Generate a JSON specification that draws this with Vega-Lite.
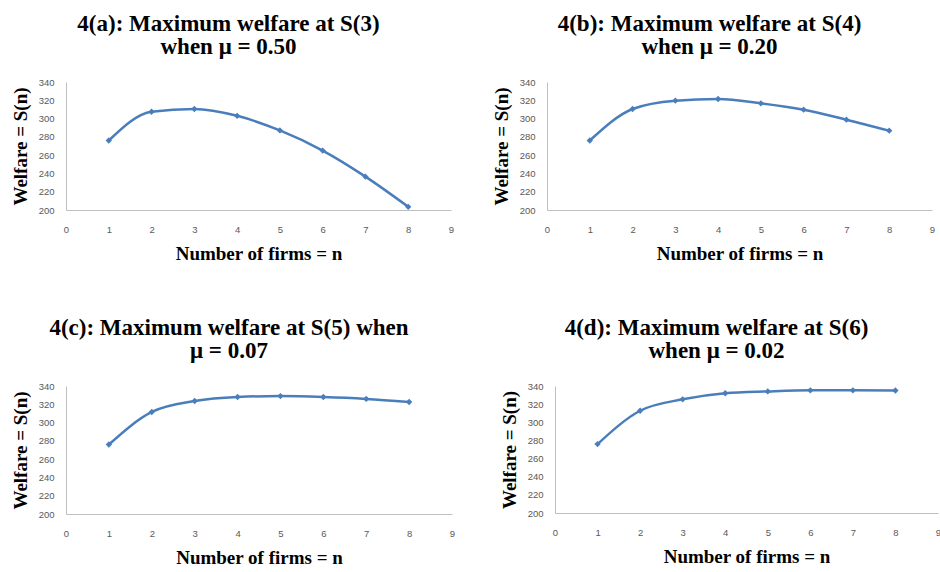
{
  "$schema": "https://vega.github.io/schema/vega-lite/v6.json",
  "padding": {"left": 11, "top": 13, "right": 0, "bottom": 0},
  "background": "white",
  "data": {"values": [
    {"panel": "a", "n": 1, "S": 276}, {"panel": "a", "n": 2, "S": 307.5}, {"panel": "a", "n": 3, "S": 310.5}, {"panel": "a", "n": 4, "S": 303}, {"panel": "a", "n": 5, "S": 287}, {"panel": "a", "n": 6, "S": 265}, {"panel": "a", "n": 7, "S": 236.5}, {"panel": "a", "n": 8, "S": 203.5},
    {"panel": "b", "n": 1, "S": 276}, {"panel": "b", "n": 2, "S": 310.5}, {"panel": "b", "n": 3, "S": 319.6}, {"panel": "b", "n": 4, "S": 321.4}, {"panel": "b", "n": 5, "S": 316.7}, {"panel": "b", "n": 6, "S": 309.7}, {"panel": "b", "n": 7, "S": 298.8}, {"panel": "b", "n": 8, "S": 286.8},
    {"panel": "c", "n": 1, "S": 276}, {"panel": "c", "n": 2, "S": 311.6}, {"panel": "c", "n": 3, "S": 323.6}, {"panel": "c", "n": 4, "S": 328}, {"panel": "c", "n": 5, "S": 329}, {"panel": "c", "n": 6, "S": 328}, {"panel": "c", "n": 7, "S": 325.9}, {"panel": "c", "n": 8, "S": 322.5},
    {"panel": "d", "n": 1, "S": 276}, {"panel": "d", "n": 2, "S": 312.7}, {"panel": "d", "n": 3, "S": 325.3}, {"panel": "d", "n": 4, "S": 332}, {"panel": "d", "n": 5, "S": 334}, {"panel": "d", "n": 6, "S": 335.2}, {"panel": "d", "n": 7, "S": 335.2}, {"panel": "d", "n": 8, "S": 335}
  ]},
  "bounds": "flush",
  "spacing": 304,
  "vconcat": [
    {
      "bounds": "flush",
      "spacing": 96,
      "hconcat": [
        {
          "width": 385, "height": 128,
          "title": {"text": ["4(a): Maximum welfare at S(3)", "when μ = 0.50"]},
          "transform": [{"filter": "datum.panel === 'a'"}],
          "encoding": {"x": {"field": "n", "type": "quantitative", "scale": {"domain": [0, 9]}, "axis": {"values": [0,1,2,3,4,5,6,7,8,9], "title": "Number of firms = n"}}, "y": {"field": "S", "type": "quantitative", "scale": {"domain": [200, 340], "zero": false}, "axis": {"values": [200,220,240,260,280,300,320,340], "labelOverlap": false, "title": "Welfare = S(n)"}}},
          "layer": [
            {"mark": {"type": "line", "interpolate": "monotone", "color": "#4a7ebb", "strokeWidth": 2.5}},
            {"mark": {"type": "point", "shape": "diamond", "filled": true, "color": "#4a7ebb", "size": 40, "opacity": 1}}
          ]
        },
        {
          "width": 385, "height": 128,
          "title": {"text": ["4(b): Maximum welfare at S(4)", "when μ = 0.20"]},
          "transform": [{"filter": "datum.panel === 'b'"}],
          "encoding": {"x": {"field": "n", "type": "quantitative", "scale": {"domain": [0, 9]}, "axis": {"values": [0,1,2,3,4,5,6,7,8,9], "title": "Number of firms = n"}}, "y": {"field": "S", "type": "quantitative", "scale": {"domain": [200, 340], "zero": false}, "axis": {"values": [200,220,240,260,280,300,320,340], "labelOverlap": false, "title": "Welfare = S(n)"}}},
          "layer": [
            {"mark": {"type": "line", "interpolate": "monotone", "color": "#4a7ebb", "strokeWidth": 2.5}},
            {"mark": {"type": "point", "shape": "diamond", "filled": true, "color": "#4a7ebb", "size": 40, "opacity": 1}}
          ]
        }
      ]
    },
    {
      "bounds": "flush",
      "spacing": 103,
      "hconcat": [
        {
          "width": 386, "height": 128,
          "title": {"text": ["4(c): Maximum welfare at S(5) when", "μ = 0.07"]},
          "transform": [{"filter": "datum.panel === 'c'"}],
          "encoding": {"x": {"field": "n", "type": "quantitative", "scale": {"domain": [0, 9]}, "axis": {"values": [0,1,2,3,4,5,6,7,8,9], "title": "Number of firms = n"}}, "y": {"field": "S", "type": "quantitative", "scale": {"domain": [200, 340], "zero": false}, "axis": {"values": [200,220,240,260,280,300,320,340], "labelOverlap": false, "title": "Welfare = S(n)"}}},
          "layer": [
            {"mark": {"type": "line", "interpolate": "monotone", "color": "#4a7ebb", "strokeWidth": 2.5}},
            {"mark": {"type": "point", "shape": "diamond", "filled": true, "color": "#4a7ebb", "size": 40, "opacity": 1}}
          ]
        },
        {
          "width": 383, "height": 127,
          "title": {"text": ["4(d): Maximum welfare at S(6)", "when μ = 0.02"]},
          "transform": [{"filter": "datum.panel === 'd'"}],
          "encoding": {"x": {"field": "n", "type": "quantitative", "scale": {"domain": [0, 9]}, "axis": {"values": [0,1,2,3,4,5,6,7,8,9], "title": "Number of firms = n"}}, "y": {"field": "S", "type": "quantitative", "scale": {"domain": [200, 340], "zero": false}, "axis": {"values": [200,220,240,260,280,300,320,340], "labelOverlap": false, "title": "Welfare = S(n)"}}},
          "layer": [
            {"mark": {"type": "line", "interpolate": "monotone", "color": "#4a7ebb", "strokeWidth": 2.5}},
            {"mark": {"type": "point", "shape": "diamond", "filled": true, "color": "#4a7ebb", "size": 40, "opacity": 1}}
          ]
        }
      ]
    }
  ],
  "config": {
    "view": {"stroke": null},
    "title": {"font": "Liberation Serif", "fontWeight": "bold", "fontSize": 23, "lineHeight": 23, "color": "#000000", "anchor": "middle", "dx": -30, "offset": 18},
    "axis": {"grid": false, "ticks": false, "labelOverlap": false, "domainColor": "#bfbfbf", "domainWidth": 1, "labelColor": "#595959", "labelFont": "Liberation Sans", "labelFontSize": 9.5, "titleFont": "Liberation Serif", "titleFontWeight": "bold", "titleFontSize": 19, "titleColor": "#000000"},
    "axisX": {"labelPadding": 14, "titlePadding": 11, "labelFlush": false},
    "axisY": {"labelPadding": 12, "titlePadding": 8, "labelFlush": false}
  }
}
